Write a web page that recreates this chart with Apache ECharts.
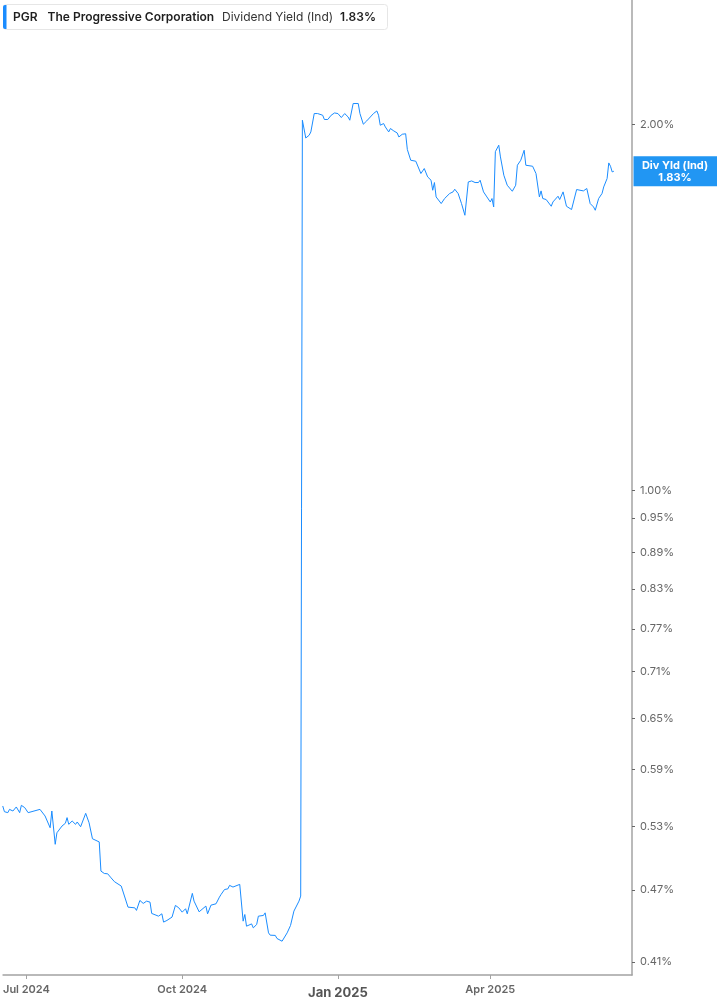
<!DOCTYPE html>
<html><head><meta charset="utf-8">
<script src="https://cdn.jsdelivr.net/npm/echarts@6/dist/echarts.min.js"></script>
<style>html,body{margin:0;padding:0;background:#fff;}#c{width:717px;height:1005px;}</style>
</head><body><div id="c"></div>
<script>
const dates = ['2024-06-17','2024-06-18','2024-06-20','2024-06-21','2024-06-23','2024-06-25','2024-06-26','2024-06-27','2024-06-28','2024-06-30',
'2024-07-02','2024-07-03','2024-07-09','2024-07-10','2024-07-12','2024-07-15','2024-07-16','2024-07-18','2024-07-19','2024-07-22',
'2024-07-24','2024-07-25','2024-07-26','2024-07-28','2024-07-30','2024-07-31','2024-08-02','2024-08-05','2024-08-07','2024-08-09',
'2024-08-13','2024-08-14','2024-08-16','2024-08-18','2024-08-20','2024-08-21','2024-08-22','2024-08-26','2024-08-30','2024-09-03',
'2024-09-04','2024-09-06','2024-09-08','2024-09-09','2024-09-10','2024-09-12','2024-09-13','2024-09-17','2024-09-19','2024-09-20',
'2024-09-22','2024-09-25','2024-09-27','2024-09-29','2024-10-01','2024-10-03','2024-10-04','2024-10-07','2024-10-08','2024-10-11',
'2024-10-15','2024-10-16','2024-10-18','2024-10-21','2024-10-23','2024-10-24','2024-10-26','2024-10-28','2024-10-29','2024-10-31',
'2024-11-04','2024-11-06','2024-11-07','2024-11-08','2024-11-11','2024-11-12','2024-11-14','2024-11-15','2024-11-18','2024-11-19',
'2024-11-21','2024-11-22','2024-11-25','2024-11-26','2024-11-27','2024-11-29','2024-12-02','2024-12-04','2024-12-05','2024-12-06',
'2024-12-09','2024-12-10','2024-12-11','2024-12-12','2024-12-13','2024-12-15','2024-12-16','2024-12-18','2024-12-20','2024-12-23',
'2024-12-24','2024-12-26','2024-12-28','2024-12-30','2025-01-01','2025-01-03','2025-01-05','2025-01-07','2025-01-08','2025-01-10',
'2025-01-13','2025-01-14','2025-01-16','2025-01-18','2025-01-22','2025-01-24','2025-01-25','2025-01-26','2025-01-28','2025-01-29',
'2025-01-30','2025-01-31','2025-02-01','2025-02-03','2025-02-05','2025-02-06','2025-02-08','2025-02-10','2025-02-11','2025-02-12',
'2025-02-13','2025-02-16','2025-02-17','2025-02-19','2025-02-21','2025-02-23','2025-02-25','2025-02-26','2025-02-27','2025-02-28',
'2025-03-03','2025-03-05','2025-03-08','2025-03-10','2025-03-11','2025-03-13','2025-03-15','2025-03-17','2025-03-19','2025-03-20',
'2025-03-21','2025-03-23','2025-03-25','2025-03-26','2025-03-28','2025-03-30','2025-04-01','2025-04-02','2025-04-03','2025-04-04',
'2025-04-06','2025-04-07','2025-04-09','2025-04-11','2025-04-14','2025-04-16','2025-04-17','2025-04-19','2025-04-21','2025-04-22',
'2025-04-26','2025-04-28','2025-04-30','2025-05-01','2025-05-02','2025-05-04','2025-05-05','2025-05-07','2025-05-08','2025-05-09',
'2025-05-11','2025-05-12','2025-05-14','2025-05-16','2025-05-19','2025-05-22','2025-05-24','2025-05-26','2025-05-28','2025-05-29',
'2025-05-30','2025-06-01','2025-06-02','2025-06-04','2025-06-06','2025-06-07','2025-06-09','2025-06-10','2025-06-11','2025-06-12',
'2025-06-13'];

const yieldPct = [0.5507,0.5448,0.5438,0.5472,0.5455,0.5497,0.5507,0.5438,0.5514,0.5490,
0.5438,0.5455,0.5472,0.5455,0.5404,0.5285,0.5455,0.5122,0.5235,0.5302,
0.5330,0.5387,0.5319,0.5353,0.5319,0.5343,0.5295,0.5431,0.5335,0.5176,
0.5145,0.4869,0.4847,0.4844,0.4807,0.4823,0.4772,0.4733,0.4548,0.4542,
0.4520,0.4606,0.4580,0.4563,0.4600,0.4591,0.4494,0.4471,0.4491,0.4421,
0.4435,0.4463,0.4563,0.4542,0.4505,0.4534,0.4491,0.4668,0.4600,0.4508,
0.4557,0.4491,0.4565,0.4577,0.4635,0.4659,0.4702,0.4708,0.4739,0.4724,
0.4748,0.4429,0.4485,0.4387,0.4406,0.4373,0.4401,0.4471,0.4477,0.4499,
0.4332,0.4313,0.4311,0.4286,0.4291,0.4264,0.4332,0.4393,0.4387,0.4514,
0.4600,0.4644,2.0154,2.0182,1.9487,1.9588,1.9712,2.0409,2.0409,2.0344,
2.0181,2.0181,2.0344,2.0432,2.0409,2.0255,2.0409,2.0279,2.0154,2.0800,
2.0800,2.0409,2.0001,2.0127,2.0409,2.0510,2.0344,1.9963,2.0027,1.9899,
1.9877,1.9712,1.9840,1.9749,1.9674,1.9525,1.9625,1.9644,1.9067,1.9067,
1.8684,1.8649,1.8603,1.8220,1.8393,1.8104,1.7990,1.7653,1.7912,1.7431,
1.7214,1.7378,1.7544,1.7598,1.7687,1.7544,1.7214,1.6837,1.7932,1.7878,
1.7966,1.7912,1.7912,1.7990,1.7598,1.7431,1.7266,1.7378,1.7104,1.8990,
1.9222,1.8802,1.8161,1.7821,1.7619,1.7821,1.8508,1.8684,1.9040,1.8508,
1.8473,1.8220,1.7431,1.7631,1.7378,1.7345,1.7378,1.7126,1.7266,1.7233,
1.7454,1.7345,1.7598,1.7126,1.7020,1.7677,1.7653,1.7631,1.7711,1.7653,
1.7214,1.7104,1.6997,1.7378,1.7544,1.7764,1.8048,1.8589,1.8473,1.8276,
1.8300];

const yTicks = [0.41,0.47,0.53,0.59,0.65,0.71,0.77,0.83,0.89,0.95,1.00,2.00];
const xTicks = ['2024-07-01','2024-10-01','2025-01-01','2025-04-01'];
const xRange = ['2024-06-17T05:00:00','2025-06-23T17:00:00'];
const monthNames = ['Jan','Feb','Mar','Apr','May','Jun','Jul','Aug','Sep','Oct','Nov','Dec'];

const LINE = '#1a8cff';
const AXIS = '#a3a3a3';
const FONT = 'Inter';
const ts = s => new Date(s.length === 10 ? s + 'T00:00:00' : s).getTime();

const chart = echarts.init(document.getElementById('c'), null, {renderer:'canvas'});
chart.setOption({
  animation:false,
  backgroundColor:'#fff',
  grid:{left:0, right:85, top:0, bottom:30, containLabel:false},
  xAxis:{
    type:'value',
    min:ts(xRange[0]), max:ts(xRange[1]),
    axisLine:{show:true, onZero:false, lineStyle:{color:AXIS, width:1.5}},
    axisTick:{show:true, customValues:xTicks.map(ts), length:4, lineStyle:{color:AXIS, width:1}},
    splitLine:{show:false},
    axisLabel:{
      customValues:xTicks.map(ts), margin:9, color:'#666', fontSize:11, fontWeight:600, fontFamily:FONT,
      formatter:function(v){
        const d = new Date(v); const m = d.getMonth();
        const s = monthNames[m] + ' ' + d.getFullYear();
        return m === 0 ? '{b|' + s + '}' : s;
      },
      rich:{b:{fontSize:13, fontWeight:700, color:'#555', fontFamily:FONT, padding:[3,0,0,0]}}
    }
  },
  yAxis:{
    type:'log', position:'right',
    min:0.400, max:2.53,
    axisLine:{show:true, lineStyle:{color:AXIS, width:1.5}},
    axisTick:{show:true, customValues:yTicks, length:3, lineStyle:{color:'#666', width:1}},
    splitLine:{show:false},
    minorTick:{show:false},
    axisLabel:{customValues:yTicks, margin:8, color:'#666', fontSize:11, fontFamily:FONT,
      formatter:function(v){ return Number(v).toFixed(2) + '%'; }}
  },
  series:[{
    type:'line', name:'Dividend Yield (Ind)',
    data: dates.map((d,i)=>[ts(d), yieldPct[i]]),
    showSymbol:false, symbol:'none',
    lineStyle:{color:LINE, width:1},
    z:3
  }]
});

const last = yieldPct[yieldPct.length-1];
const tagY = chart.convertToPixel({yAxisIndex:0}, last);
chart.setOption({
  graphic:[
    {type:'rect', shape:{x:3.5, y:4.5, width:384, height:25, r:3}, style:{fill:'#fff', stroke:'#e6e6e6', lineWidth:1}, z:10},
    {type:'rect', shape:{x:3, y:5, width:3.5, height:24, r:[2,0,0,2]}, style:{fill:LINE}, z:11},
    {type:'text', x:13, y:17, style:{text:'PGR', fill:'#1f1f1f', font:'600 12px Inter', verticalAlign:'middle'}, z:11},
    {type:'text', x:47.5, y:17, style:{text:'The Progressive Corporation', fill:'#1f1f1f', font:'600 12px Inter', verticalAlign:'middle'}, z:11},
    {type:'text', x:222, y:17, style:{text:'Dividend Yield (Ind)', fill:'#333', font:'400 12px Inter', verticalAlign:'middle'}, z:11},
    {type:'text', x:340, y:17, style:{text:last.toFixed(2) + '%', fill:'#1f1f1f', font:'600 12px Inter', verticalAlign:'middle'}, z:11},
    {type:'rect', shape:{x:633.5, y:tagY-15, width:84, height:30}, style:{fill:'#2196f3'}, z:11},
    {type:'text', x:675, y:tagY-6, style:{text:'Div Yld (Ind)', fill:'#fff', font:'700 11px Inter', align:'center', verticalAlign:'middle'}, z:12},
    {type:'text', x:675, y:tagY+6, style:{text:last.toFixed(2) + '%', fill:'#fff', font:'700 11px Inter', align:'center', verticalAlign:'middle'}, z:12}
  ]
});
</script>
</body></html>
